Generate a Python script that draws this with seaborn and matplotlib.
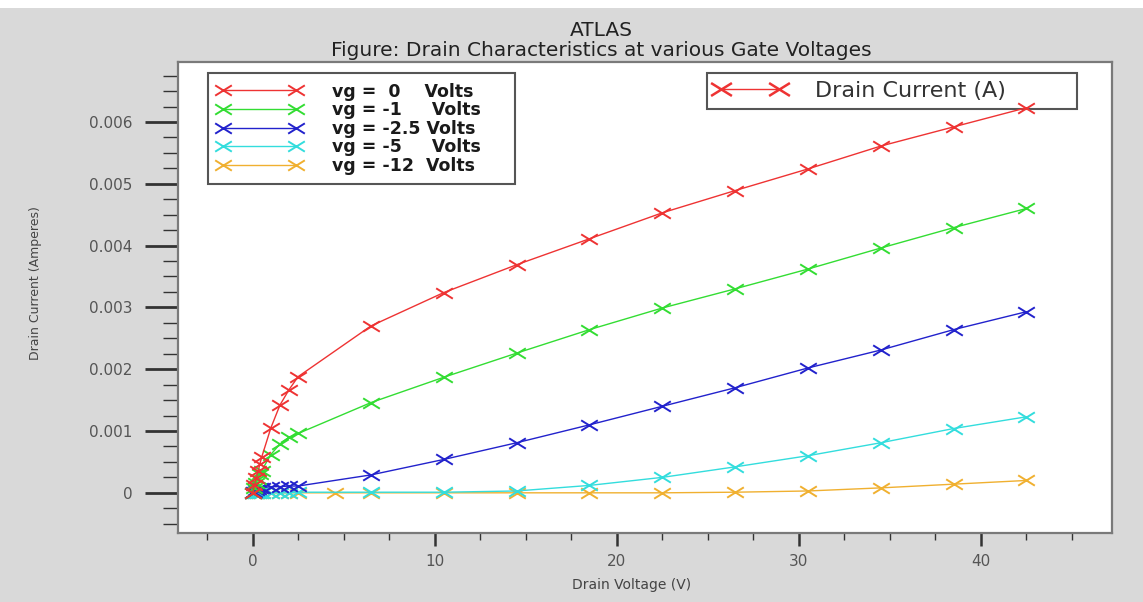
import numpy as np
import pandas as pd
import matplotlib
matplotlib.use("Agg")
import matplotlib.pyplot as plt
from matplotlib.path import Path
from matplotlib.lines import Line2D
from matplotlib.patches import Rectangle
from matplotlib.ticker import MultipleLocator, FixedLocator, FixedFormatter
import seaborn as sns

# ---------------- data ----------------
vd_main = [0, 0.1, 0.2, 0.3, 0.4, 0.5, 1.0, 1.5, 2.0, 2.5,
           6.5, 10.5, 14.5, 18.5, 22.5, 26.5, 30.5, 34.5, 38.5, 42.5]
vd_m12 = [0, 0.1, 0.2, 0.3, 0.4, 0.5, 1.0, 1.5, 2.0, 2.5, 4.5,
          6.5, 10.5, 14.5, 18.5, 22.5, 26.5, 30.5, 34.5, 38.5, 42.5]

id_vg0 = [0, 0.00012, 0.00024, 0.00035, 0.00047, 0.00058, 0.00105, 0.00142, 0.00167, 0.00188,
          0.00270, 0.00324, 0.00369, 0.00411, 0.00453, 0.00489, 0.00524, 0.00561, 0.00592, 0.00623]
id_vg1 = [0, 0.00008, 0.00016, 0.00023, 0.00030, 0.00036, 0.00062, 0.00079, 0.00090, 0.00096,
          0.00146, 0.00187, 0.00226, 0.00264, 0.00299, 0.00330, 0.00362, 0.00396, 0.00429, 0.00460]
id_vg25 = [0, 0.00002, 0.00004, 0.00006, 0.00007, 0.00008, 0.00010, 0.00010, 0.00011, 0.00011,
           0.00029, 0.00054, 0.00081, 0.00110, 0.00140, 0.00170, 0.00202, 0.00231, 0.00264, 0.00293]
id_vg5 = [0, 0, 0, 0, 0, 0, 0, 0, 0, 0.00001,
          0.00001, 0.00001, 0.00003, 0.00012, 0.00025, 0.00042, 0.00060, 0.00081, 0.00104, 0.00123]
id_vg12 = [0, 0, 0, 0, 0, 0, 0, 0, 0, 0, 0,
           0, 0, 0, 0, 0, 0.00001, 0.00003, 0.00008, 0.00014, 0.00020]

series_labels = ["vg =  0    Volts", "vg = -1     Volts", "vg = -2.5 Volts",
                 "vg = -5     Volts", "vg = -12  Volts"]
series_colors = ["#ee3333", "#33dd33", "#2222cc", "#33dddd", "#f0b030"]

xticks = [0, 10, 20, 30, 40]
xtick_labels = ["0", "10", "20", "30", "40"]
yticks = [0, 0.001, 0.002, 0.003, 0.004, 0.005, 0.006]
ytick_labels = ["0", "0.001", "0.002", "0.003", "0.004", "0.005", "0.006"]

title_lines = ["ATLAS", "Figure: Drain Characteristics at various Gate Voltages"]
xlabel = "Drain Voltage (V)"
ylabel = "Drain Current (Amperes)"
legend2_label = "Drain Current (A)"

# ---------------- style ----------------
sns.set_theme(style="white")
plt.rcParams["font.family"] = ["DejaVu Sans"]

W, H = 1143, 602
fig = plt.figure(figsize=(W / 100, H / 100), dpi=100, facecolor="#d9d9d9")
fig.patches.append(Rectangle((0, 1 - 8 / H), 1, 8 / H, transform=fig.transFigure,
                             facecolor="white", edgecolor="none", zorder=0))

ax_l, ax_r, ax_t, ax_b = 178, 1112, 62, 533
AW, AH = ax_r - ax_l, ax_b - ax_t
ax = fig.add_axes([ax_l / W, 1 - ax_b / H, AW / W, AH / H])
ax.set_facecolor("white")

xmark = Path([(-1, -0.62), (1, 0.62), (-1, 0.62), (1, -0.62)],
             [Path.MOVETO, Path.LINETO, Path.MOVETO, Path.LINETO])

datasets = [(vd_main, id_vg0), (vd_main, id_vg1), (vd_main, id_vg25),
            (vd_main, id_vg5), (vd_m12, id_vg12)]

# draw lower curves first so red is on top
for i in [4, 3, 2, 1, 0]:
    xs, ys = datasets[i]
    df = pd.DataFrame({"vd": xs, "id": ys})
    sns.lineplot(data=df, x="vd", y="id", ax=ax, color=series_colors[i],
                 marker=xmark, markersize=12, markeredgewidth=1.4,
                 markeredgecolor=series_colors[i], linewidth=1.0,
                 sort=False, estimator=None, legend=False, zorder=3)

ax.set_xlim(-4.1, 47.2)
ax.set_ylim(-0.00065, 0.00697)

ax.xaxis.set_major_locator(FixedLocator(xticks))
ax.xaxis.set_major_formatter(FixedFormatter(xtick_labels))
ax.xaxis.set_minor_locator(MultipleLocator(2.5))
ax.yaxis.set_major_locator(FixedLocator(yticks))
ax.yaxis.set_major_formatter(FixedFormatter(ytick_labels))
ax.yaxis.set_minor_locator(MultipleLocator(0.00025))

ax.tick_params(axis="both", which="both", direction="out", bottom=True, left=True,
               top=False, right=False, colors="#333333", labelcolor="#555555")
ax.tick_params(axis="x", which="major", length=9, width=1.8, pad=6, labelsize=11)
ax.tick_params(axis="x", which="minor", length=5, width=1.0)
ax.tick_params(axis="y", which="major", length=24, width=2.0, pad=9, labelsize=11)
ax.tick_params(axis="y", which="minor", length=11, width=1.0)

for sp in ax.spines.values():
    sp.set_color("#7a7a7a")
    sp.set_linewidth(1.6)

ax.set_xlabel(xlabel, fontsize=10, color="#444444")
ax.set_ylabel(ylabel, fontsize=9, color="#444444")
ax.xaxis.set_label_coords((632 - ax_l) / AW, -(578 - ax_b) / AH)
ax.yaxis.set_label_coords(-(ax_l - 42) / AW, (ax_b - 283) / AH)

fig.text(601 / W, 1 - 31 / H, title_lines[0], ha="center", va="center",
         fontsize=14.5, color="#222222")
fig.text(601 / W, 1 - 51 / H, title_lines[1], ha="center", va="center",
         fontsize=14.5, color="#222222")

# legend 1: gate voltages
handles1 = [Line2D([0], [0], color=c, marker=xmark, markersize=12, markeredgewidth=1.4,
                   linewidth=1.0) for c in series_colors]
l1x0, l1x1 = (208 - ax_l) / AW, (515 - ax_l) / AW
l1y0, l1y1 = 1 - (183 - ax_t) / AH, 1 - (73 - ax_t) / AH
leg1 = ax.legend(handles1, series_labels, loc="upper left",
                 bbox_to_anchor=(l1x0, l1y0, l1x1 - l1x0, l1y1 - l1y0), mode="expand",
                 borderaxespad=0, numpoints=2, handlelength=4.8, handletextpad=1.8,
                 labelspacing=0.03, borderpad=0.55, fancybox=False, framealpha=1,
                 edgecolor="#555555", prop={"size": 12.5, "weight": "bold"})
leg1.get_frame().set_linewidth(1.5)
for t in leg1.get_texts():
    t.set_color("#1a1a1a")
ax.add_artist(leg1)

# legend 2: drain current
handle2 = Line2D([0], [0], color=series_colors[0], marker=xmark, markersize=15,
                 markeredgewidth=1.8, linewidth=1.0)
x0 = (707 - ax_l) / AW
x1 = (1077 - ax_l) / AW
ytop = 1 - (73 - ax_t) / AH
ybot = 1 - (108 - ax_t) / AH
leg2 = ax.legend([handle2], [legend2_label], loc="upper left",
                 bbox_to_anchor=(x0, ybot, x1 - x0, ytop - ybot), mode="expand",
                 borderaxespad=0, numpoints=2, handlelength=3.2, handletextpad=1.3,
                 borderpad=0.35, fancybox=False, framealpha=1, edgecolor="#555555",
                 prop={"size": 16})
leg2.get_frame().set_linewidth(1.5)
leg2.set_zorder(1)
for t in leg2.get_texts():
    t.set_color("#333333")

fig.savefig("out.png", dpi=100, facecolor=fig.get_facecolor())
